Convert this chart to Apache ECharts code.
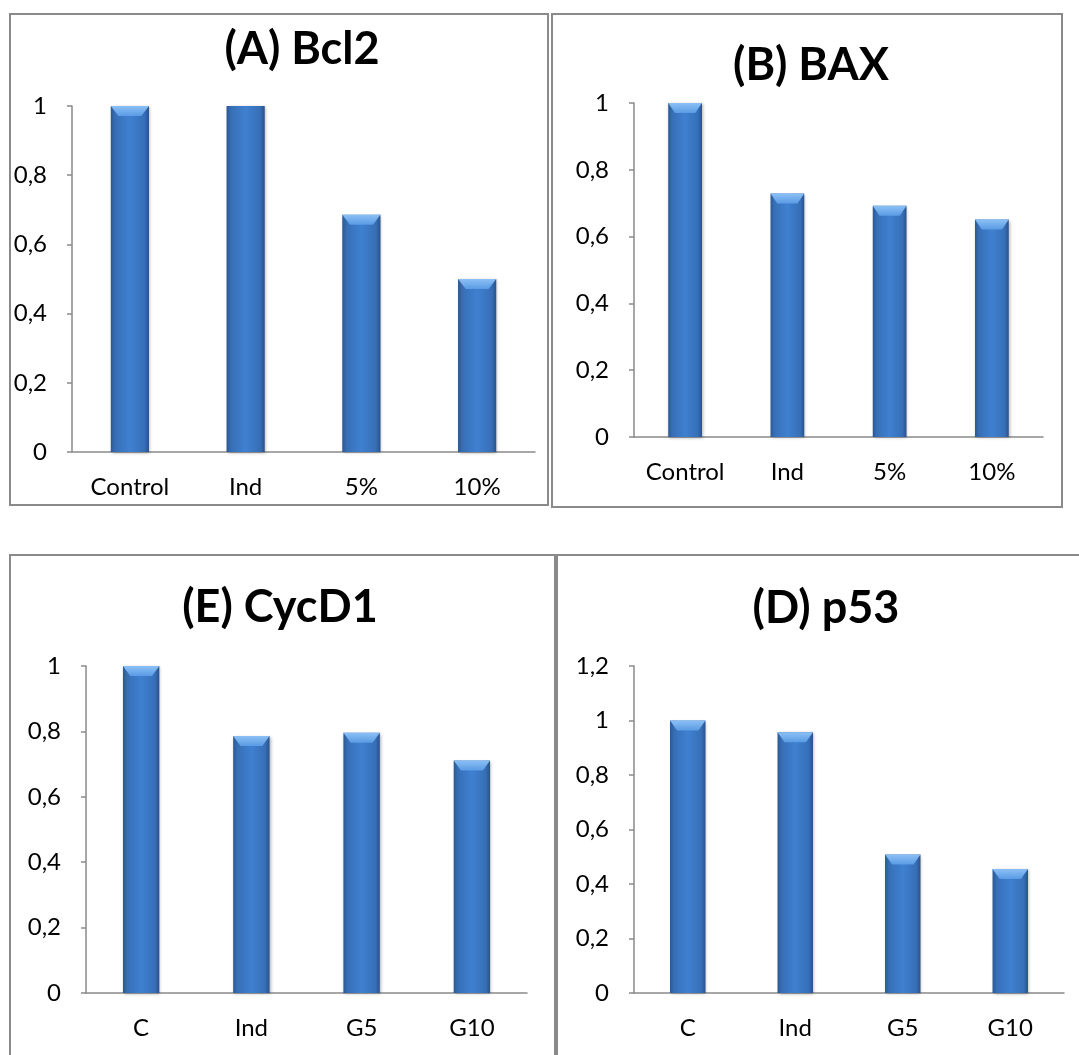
<!DOCTYPE html>
<html>
<head>
<meta charset="utf-8">
<script src="https://cdn.jsdelivr.net/npm/echarts@6/dist/echarts.min.js"></script>
<style>
html,body{margin:0;padding:0;background:#fff;}
#chart{width:1079px;height:1055px;}
</style>
</head>
<body>
<div id="chart"></div>
<script>
// ---- data ----
const catsTop = ['Control', 'Ind', '5%', '10%'];
const catsBottom = ['C', 'Ind', 'G5', 'G10'];
const bcl2 = [1.0, 1.03, 0.686, 0.5];
const bax = [1.0, 0.729, 0.692, 0.651];
const cycd1 = [1.0, 0.786, 0.796, 0.711];
const p53 = [1.0, 0.957, 0.508, 0.455];
const titles = ['(A) Bcl2', '(B) BAX', '(E) CycD1', '(D) p53'];
const yMax = [1, 1, 1, 1.2];
const yStep = 0.2;

const FONT = 'Lato';
const panels = [
  {cats: catsTop, vals: bcl2, grid: {left: 72, top: 106, width: 463, height: 346}, tx: 302, ty: 49},
  {cats: catsTop, vals: bax, grid: {left: 634, top: 103, width: 409, height: 334}, tx: 811, ty: 65},
  {cats: catsBottom, vals: cycd1, grid: {left: 86, top: 666, width: 441, height: 327}, tx: 280, ty: 607},
  {cats: catsBottom, vals: p53, grid: {left: 634, top: 666, width: 430, height: 327}, tx: 826, ty: 608}
];

const barGrad = {
  type: 'linear', x: 0, y: 0, x2: 1, y2: 0,
  colorStops: [
    {offset: 0, color: '#2b5894'},
    {offset: 0.12, color: '#376fb6'},
    {offset: 0.5, color: '#3f80d1'},
    {offset: 0.88, color: '#376fb6'},
    {offset: 1, color: '#29528a'}
  ]
};
const bevelGrad = {
  type: 'linear', x: 0, y: 0, x2: 0, y2: 1,
  colorStops: [
    {offset: 0, color: '#8cc0f5'},
    {offset: 1, color: '#5a9be4'}
  ]
};

const fmt = v => String(+v.toFixed(2)).replace('.', ',');

const option = {
  animation: false,
  backgroundColor: '#ffffff',
  textStyle: {fontFamily: FONT},
  title: panels.map((p, i) => ({
    text: titles[i],
    left: p.tx, top: p.ty - 24,
    textAlign: 'center',
    padding: 0,
    textStyle: {fontFamily: FONT, fontWeight: 'bold', fontSize: 45, color: '#000', lineHeight: 48}
  })),
  grid: panels.map(p => Object.assign({}, p.grid)),
  xAxis: panels.map((p, i) => ({
    type: 'category', gridIndex: i, data: p.cats,
    axisLine: {show: true, lineStyle: {color: '#8a8a8a', width: 1.5}},
    axisTick: {show: false},
    axisLabel: {fontFamily: FONT, fontSize: 24, color: '#000', margin: 23, interval: 0, hideOverlap: false}
  })),
  yAxis: panels.map((p, i) => ({
    type: 'value', gridIndex: i, min: 0, max: yMax[i], interval: yStep,
    axisLine: {show: true, lineStyle: {color: '#8a8a8a', width: 1.5}},
    axisTick: {show: true, length: 5, lineStyle: {color: '#8a8a8a', width: 1.5}},
    splitLine: {show: false},
    axisLabel: {fontFamily: FONT, fontSize: 24, color: '#000', margin: 25, formatter: fmt}
  })),
  series: panels.flatMap((p, i) => [
    {
      type: 'bar', xAxisIndex: i, yAxisIndex: i, data: p.vals,
      barWidth: '33%', clip: true,
      itemStyle: {color: barGrad, shadowBlur: 3, shadowColor: 'rgba(0,0,0,0.3)', shadowOffsetX: 1, shadowOffsetY: 1}
    },
    {
      type: 'pictorialBar', xAxisIndex: i, yAxisIndex: i,
      data: p.vals.map(v => v > yMax[i] ? '-' : v),
      barWidth: '33%', symbolPosition: 'end',
      symbol: 'path://M0,0 L20,0 L16,4 L4,4 Z',
      symbolSize: ['100%', 10], z: 3,
      itemStyle: {color: bevelGrad}
    }
  ]),
  graphic: [
    {type: 'rect', shape: {x: 10, y: 14, width: 538, height: 491}, style: {fill: 'none', stroke: '#8a8a8a', lineWidth: 2}},
    {type: 'rect', shape: {x: 552, y: 14, width: 510, height: 493}, style: {fill: 'none', stroke: '#8a8a8a', lineWidth: 2}},
    {type: 'rect', shape: {x: 10, y: 555, width: 545, height: 520}, style: {fill: 'none', stroke: '#8a8a8a', lineWidth: 2}},
    {type: 'rect', shape: {x: 557, y: 555, width: 540, height: 520}, style: {fill: 'none', stroke: '#8a8a8a', lineWidth: 2}}
  ]
};

const chart = echarts.init(document.getElementById('chart'), null, {renderer: 'canvas'});
chart.setOption(option);
</script>
</body>
</html>
